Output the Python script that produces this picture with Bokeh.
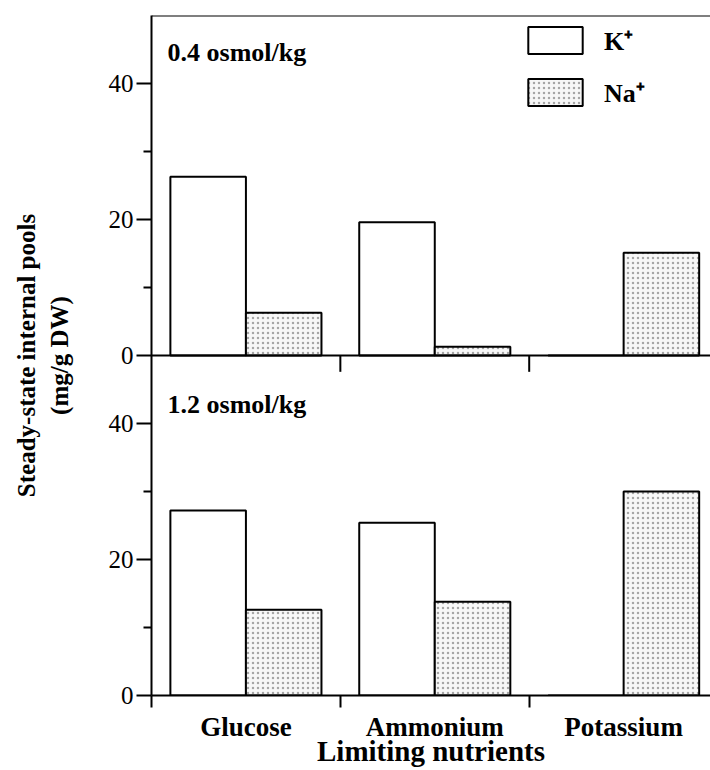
import math
import numpy as np
from bokeh.plotting import figure
from bokeh.models import (Range1d, LinearAxis, FixedTicker, Span, Label, Legend,
                          LegendItem, ColumnDataSource)
from bokeh.embed import file_html
from bokeh.resources import INLINE

# ---------------- data ----------------
categories = ["Glucose", "Ammonium", "Potassium"]
k_low = [26.3, 19.6, 0.0]      # 0.4 osmol/kg, K+
na_low = [6.3, 1.3, 15.1]      # 0.4 osmol/kg, Na+
k_high = [27.2, 25.4, 0.0]     # 1.2 osmol/kg, K+
na_high = [12.6, 13.8, 30.0]   # 1.2 osmol/kg, Na+
panel_labels = ["0.4 osmol/kg", "1.2 osmol/kg"]
ion_labels = ["K\u207a", "Na\u207a"]
y_ticks = [0, 20, 40]
y_minor = [10, 30]
panel_max = 50
x_title = "Limiting nutrients"
y_title = "Steady-state internal pools\n(mg/g DW)"

# ---------------- figure ----------------
SERIF = "Liberation Serif"
n = len(categories)
centers = [i + 0.5 for i in range(n)]
bar_w = 0.4

p = figure(width=710, height=770, output_backend="svg", toolbar_location=None,
           x_range=Range1d(0, 2.96), y_range=Range1d(0, 2 * panel_max),
           min_border_left=151, min_border_right=0, min_border_top=15,
           min_border_bottom=75, x_axis_type=None, y_axis_type=None)
p.extra_y_ranges = {"top": Range1d(-panel_max, panel_max)}
p.outline_line_color = None
p.background_fill_color = "white"

src_top = ColumnDataSource(dict(xk=[c - bar_w / 2 for c in centers],
                                xn=[c + bar_w / 2 for c in centers],
                                k=k_low, na=na_low))
src_bot = ColumnDataSource(dict(xk=[c - bar_w / 2 for c in centers],
                                xn=[c + bar_w / 2 for c in centers],
                                k=k_high, na=na_high))

k_style = dict(fill_color="white", line_color="black", line_width=2)
na_style = dict(fill_color="#f7f7f7", line_color="black", line_width=2,
                hatch_pattern="dot", hatch_color="#a6a6a6", hatch_scale=5,
                hatch_weight=1)

rk_top = p.vbar(x="xk", top="k", bottom=0, width=bar_w, source=src_top,
                y_range_name="top", **k_style)
rn_top = p.vbar(x="xn", top="na", bottom=0, width=bar_w, source=src_top,
                y_range_name="top", **na_style)
p.vbar(x="xk", top="k", bottom=0, width=bar_w, source=src_bot, **k_style)
p.vbar(x="xn", top="na", bottom=0, width=bar_w, source=src_bot, **na_style)

# top border and the zero line of the upper panel
p.add_layout(Span(location=panel_max, dimension="width", y_range_name="top",
                  line_color="black", line_width=2))
p.add_layout(Span(location=0, dimension="width", y_range_name="top",
                  line_color="black", line_width=2))
bounds = list(range(1, n))
p.segment(x0=bounds, x1=bounds, y0=[0] * len(bounds), y1=[-2.4] * len(bounds),
          y_range_name="top", line_color="black", line_width=2)

# y axis (one axis for both stacked panels)
maj = [t for t in y_ticks] + [t + panel_max for t in y_ticks]
mnr = [t for t in y_minor] + [t + panel_max for t in y_minor]
overrides = {t: str(t) for t in y_ticks}
overrides.update({t + panel_max: str(t) for t in y_ticks})
yaxis = LinearAxis(ticker=FixedTicker(ticks=maj, minor_ticks=mnr),
                   major_label_overrides=overrides,
                   axis_line_width=2, axis_line_color="black",
                   major_tick_out=15, major_tick_in=0, major_tick_line_width=2,
                   minor_tick_out=8, minor_tick_in=0, minor_tick_line_width=2,
                   major_label_standoff=3,
                   major_label_text_font=SERIF,
                   major_label_text_font_size="25px",
                   major_label_text_color="black",
                   axis_label=y_title,
                   axis_label_standoff=33,
                   axis_label_text_font=SERIF,
                   axis_label_text_font_style="bold",
                   axis_label_text_font_size="25px",
                   axis_label_text_color="black")
p.add_layout(yaxis, "left")

# x axis
xaxis = LinearAxis(ticker=FixedTicker(ticks=centers, minor_ticks=list(range(n))),
                   major_label_overrides={c: cat for c, cat in zip(centers, categories)},
                   axis_line_width=2, axis_line_color="black",
                   major_tick_out=0, major_tick_in=0, major_tick_line_color=None,
                   minor_tick_out=12, minor_tick_in=0, minor_tick_line_width=2,
                   major_label_standoff=4,
                   major_label_text_font=SERIF,
                   major_label_text_font_style="bold",
                   major_label_text_font_size="27px",
                   major_label_text_color="black",
                   axis_label=x_title,
                   axis_label_standoff=-10,
                   axis_label_text_font=SERIF,
                   axis_label_text_font_style="bold",
                   axis_label_text_font_size="29px",
                   axis_label_text_color="black")
p.add_layout(xaxis, "below")

# panel labels
p.add_layout(Label(x=0.085, y=44.6, y_range_name="top", text=panel_labels[0],
                   text_font=SERIF, text_font_style="bold", text_font_size="26px",
                   text_baseline="alphabetic", text_color="black"))
p.add_layout(Label(x=0.085, y=42.8, text=panel_labels[1],
                   text_font=SERIF, text_font_style="bold", text_font_size="26px",
                   text_baseline="alphabetic", text_color="black"))

# legend
legend = Legend(items=[LegendItem(label=ion_labels[0], renderers=[rk_top]),
                       LegendItem(label=ion_labels[1], renderers=[rn_top])],
                location=(370, 585), orientation="vertical",
                glyph_width=68, glyph_height=34, spacing=16, padding=0, margin=0,
                label_standoff=15, label_height=34,
                label_text_font=SERIF, label_text_font_style="bold",
                label_text_font_size="26px", label_text_color="black",
                border_line_color=None, background_fill_alpha=0)
p.add_layout(legend)

open("out.html", "w").write(file_html(p, INLINE))
